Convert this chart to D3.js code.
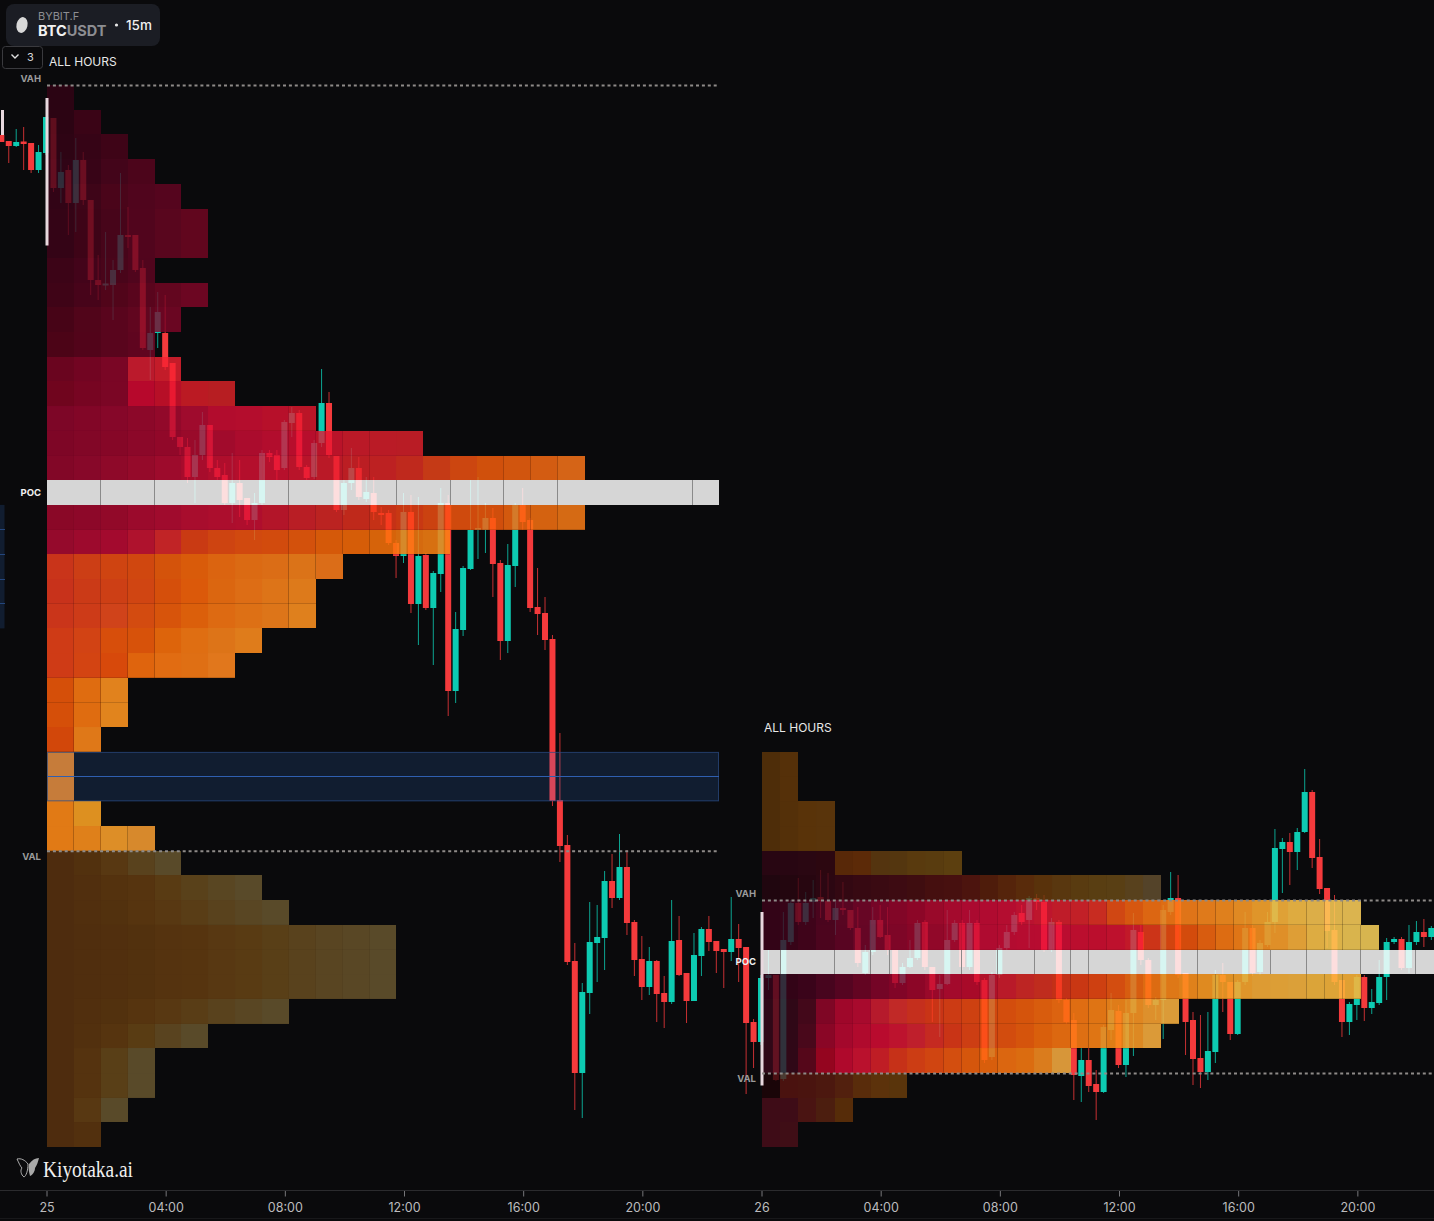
<!DOCTYPE html>
<html><head><meta charset="utf-8">
<script src="https://cdn.jsdelivr.net/npm/d3@7"></script>
<style>html,body{margin:0;padding:0;background:#0a0a0c;overflow:hidden}svg{display:block}text{font-family:Inter,"Noto Sans",sans-serif}</style>
</head><body><svg id="c" width="1434" height="1221"></svg>
<script>
// ---------- DATA ----------
const priorCandles=[[67730,67730,67716,67716],[67718,67718,67674,67708],[67708,67742,67706,67716],[67717,67746,67660,67712],[67714,67714,67654,67660],[67660,67710,67654,67696]];
const dayOneCandles=[[67694,67766,67690,67766],[67764,67764,67616,67624],[67624,67696,67594,67656],[67660,67670,67530,67594],[67594,67724,67536,67680],[67680,67696,67590,67600],[67600,67600,67410,67440],[67440,67490,67400,67430],[67429,67536,67420,67433],[67430,67480,67360,67460],[67460,67654,67454,67530],[67530,67586,67504,67526],[67530,67530,67456,67460],[67464,67480,67300,67304],[67300,67386,67240,67334],[67334,67416,67304,67376],[67334,67410,67260,67266],[67274,67274,67120,67126],[67126,67126,67090,67106],[67106,67124,67034,67046],[67046,67120,66994,67090],[67090,67176,67080,67150],[67150,67150,67056,67064],[67064,67080,67040,67046],[67050,67074,66990,66994],[66994,67094,66954,67034],[67034,67080,66966,67000],[67004,67004,66950,66960],[66960,67014,66920,66994],[66994,67100,66990,67094],[67094,67100,67076,67086],[67090,67100,67040,67060],[67064,67160,67060,67156],[67154,67186,67126,67174],[67174,67180,67060,67066],[67066,67070,67040,67044],[67046,67120,67042,67114],[67114,67262,67106,67194],[67194,67216,67084,67090],[67088,67088,66976,66980],[66980,67040,66970,67034],[67034,67104,67020,67064],[67064,67086,67000,67006],[67002,67046,66996,67016],[67014,67046,66960,66976],[66974,66986,66950,66970],[66974,66980,66910,66914],[66914,66920,66844,66888],[66888,67014,66874,66976],[66976,67010,66774,66792],[66792,67006,66710,66888],[66890,66894,66780,66784],[66784,66858,66670,66854],[66852,67024,66816,66994],[66994,67010,66568,66618],[66618,66776,66594,66742],[66740,66868,66728,66864],[66862,67040,66860,66940],[66940,67046,66882,66944],[66940,66994,66894,66964],[66964,66984,66806,66872],[66874,66880,66680,66718],[66718,66912,66694,66870],[66868,66994,66826,66990],[66990,67024,66940,66956],[66960,66964,66776,66784],[66786,66864,66730,66772],[66774,66806,66700,66720],[66722,66730,66388,66398],[66400,66534,66276,66308],[66310,66330,66070,66076],[66078,66114,65780,65854],[65854,66034,65764,66016],[66014,66196,65972,66116],[66114,66190,66036,66126],[66124,66258,66060,66238],[66238,66292,66184,66204],[66204,66332,66200,66266],[66266,66300,66130,66154],[66156,66160,66048,66080],[66082,66128,66000,66026],[66026,66106,66010,66078],[66078,66080,65956,66012],[66014,66048,65944,65996],[65996,66200,65992,66118],[66120,66168,66048,66050],[66054,66054,65954,65998],[65998,66134,65998,66090],[66088,66146,66048,66142],[66142,66168,66098,66116],[66118,66118,66054,66098],[66102,66102,66024,66096],[66096,66206,66078,66122],[66122,66152,66036,66104],[66106,66106,65812,65954],[65956,65962,65864,65916]];
const dayTwoCandles=[[65916,66050,65910,66044],[66044,66100,66020,66050],[66050,66050,65838,65840],[65842,66176,65838,66120],[66116,66200,66110,66194],[66194,66244,66150,66156],[66156,66216,66150,66194],[66196,66240,66164,66204],[66206,66260,66164,66198],[66198,66254,66156,66160],[66160,66196,66130,66184],[66184,66236,66170,66180],[66180,66180,66140,66144],[66144,66186,66066,66074],[66054,66110,66050,66096],[66096,66186,66090,66160],[66160,66190,66124,66126],[66130,66186,66090,66100],[66100,66100,66024,66034],[66034,66074,66030,66066],[66066,66120,66064,66084],[66084,66160,66080,66154],[66156,66160,66060,66066],[66066,66066,65956,66020],[66022,66050,65926,66032],[66032,66180,66030,66120],[66120,66160,66116,66154],[66154,66160,66060,66066],[66066,66180,66060,66154],[66154,66160,66030,66036],[66040,66044,65874,65880],[65886,66056,65880,66050],[66050,66110,66044,66104],[66104,66150,66100,66136],[66136,66176,66130,66170],[66174,66190,66150,66156],[66160,66208,66104,66204],[66204,66212,66180,66196],[66196,66210,66096,66100],[66100,66164,66096,66156],[66156,66160,65994,66000],[66000,66004,65952,65956],[65960,65974,65800,65850],[65848,65904,65796,65880],[65880,65904,65816,65828],[65832,65860,65760,65816],[65816,65950,65814,65946],[65940,66014,65920,65980],[65978,65990,65864,65870],[65870,66000,65846,65974],[65974,66174,65888,66140],[66136,66150,66070,66080],[66080,66084,65984,65990],[65990,66006,65960,66000],[66000,66190,65922,66180],[66176,66256,66170,66204],[66204,66250,66044,66050],[66054,66054,65890,65956],[65960,65976,65830,65882],[65884,65970,65824,65856],[65856,65976,65840,65898],[65896,66060,65874,66050],[66050,66074,65976,66036],[66036,66036,65920,65932],[65932,66040,65930,66036],[66036,66176,66030,66144],[66144,66150,66048,66054],[66056,66120,66050,66114],[66110,66176,66106,66156],[66156,66342,66134,66304],[66302,66324,66214,66316],[66316,66334,66230,66296],[66296,66344,66260,66336],[66336,66462,66334,66416],[66416,66420,66264,66284],[66286,66322,66212,66222],[66224,66224,66104,66138],[66140,66210,66030,66036],[66040,66040,65926,65956],[65956,65996,65930,65992],[65990,66050,65960,66046],[66046,66050,65958,65984],[65984,66022,65972,65996],[65994,66080,65990,66046],[66046,66124,66000,66116],[66116,66126,66112,66122],[66122,66126,66060,66064],[66064,66150,66054,66116],[66116,66158,66110,66136],[66136,66162,66106,66126],[66126,66148,66120,66144]];
const rowSizeUsd=49.4, gridTopUsd=67830;
// time-at-price counts per price row (row 0 = top of the grid)
const dayOneCounts=[1,2,3,4,5,6,6,4,6,5,4,5,7,10,14,20,25,20,15,11,10,10,8,7,3,3,2,1,1,2,4,5,8,9,13,13,13,9,6,4,4,3,2];
const dayOneFirstRow=0, dayOnePocRow=16, dayOneVahRow=0, dayOneValRow=31;
const dayTwoCounts=[2,2,4,4,11,22,33,34,37,33,23,22,17,8,5,2];
const dayTwoFirstRow=27, dayTwoPocRow=35, dayTwoVahRow=33, dayTwoValRow=40;
const dayOnePocSplits=[2,4,9,13,15,17,19,24];
const dayTwoPocSplits=[1,4,6,7,11,13,15,17,18,24,28,30,33,36];
const ibBars=[{bar:-6,hi:67780,lo:67730},{bar:0,hi:67804,lo:67509},{bar:96,hi:66176,lo:65829}];
const zoneRows=[27,29], priorZoneRows=[17,22];
const tickBars=[0,16,32,48,64,80,96,112,128,144,160,176];
const tickLabels=["25","04:00","08:00","12:00","16:00","20:00","26","04:00","08:00","12:00","16:00","20:00"];

// ---------- STYLE ----------
const brown=['#4e2c0e','#52300e','#56340f','#5a3c14','#5a4420','#5a4a2a'];
const dayOneStops={0:['#2b0414','#2b0414'],1:['#2c0414','#3a0416'],2:['#2e0415','#3e0418'],3:['#300416','#4c051c'],4:['#320416','#4a051b','#55051e'],5:['#340416','#4d051c','#62061f'],6:['#340416','#4d051c','#62061f'],7:['#3c0418','#50051d'],8:['#400418','#55051c','#6d0622'],9:['#470418','#5a051d','#6a0622'],10:['#4c0418','#5f0520'],
11:['#6a0520','#720522','#7a0626','#bc1a2c','#c41c2a'],12:['#70051f','#780522','#7c0626','#b8082c','#b80f28','#bc1a24','#b81e22'],13:['#7d0628','#850628','#8c082a','#960a2c','#b20c2e','#b60e2c','#bb1528'],14:['#7e0627','#860728','#900829','#9e0b2c','#b00c2e','#b80e2c','#bb1a28','#b91c26'],15:['#830728','#8b0829','#960a2b','#a50c2c','#b20e2c','#b8102c','#ba162a','#bc1e24','#be2420','#c83e14','#d04f0c','#d2580f','#d66418'],
17:['#8a0828','#8f0829','#9a0a2c','#a40c2e','#ad0e2e','#b00e2e','#b91d26','#bc2420','#c42e18','#c83a14','#ce480e','#d04f0c','#d4600f','#d66a15'],18:['#960a2c','#a00a2e','#a60a2f','#c0202a','#ca3c12','#cf4810','#d24a0e','#d3500c','#d65a0a','#d86008','#d66a10','#d87012'],19:['#c9351a','#cc3e16','#cf4512','#d0480f','#d5540c','#da5c0a','#dc6410','#dc6a14','#dc6e16','#dc7418','#dc6e18'],20:['#c8321c','#cb3a18','#cd4016','#d04612','#d6500c','#dc5a0a','#dc6610','#de6e16','#de7418','#de7a1c'],21:['#ca361a','#cd3c18','#d0441a','#d44c10','#d8540c','#dc600c','#de6a12','#de7016','#de761a','#e0801e'],22:['#cf3c16','#d24414','#d84e0c','#d8520a','#de640c','#e06e12','#de7418','#e07c1c'],23:['#cf3c16','#d44412','#d84a0c','#e0640e','#e26c12','#e07014','#e2781c'],24:['#d6500a','#e06c10','#e2821e'],25:['#d6500a','#e06c10','#e2841e'],26:['#d2480a','#e07818'],27:['#e07a18','#e07a18'],28:['#e07a18','#e07a18'],29:['#e27a16','#de9020'],30:['#e27a16','#e0801a','#de8e28','#d88a2c'],
31:brown,32:brown,33:brown,34:brown,35:brown,36:brown,37:brown,38:brown,39:brown,40:brown,41:brown,42:brown.slice(0,2)};
const dayTwoStops={27:['#4e2d0a','#55300a'],28:['#4e2d0a','#55300a'],29:['#4e2d0a','#54300a','#5a330a','#5a340c'],30:['#4e2d0a','#54300a','#5a330a','#5a340c'],
31:['#280612','#280612','#2a0712','#2c0711','#582808','#5c2a08','#543410','#543610','#5a3a0e','#5a3c10','#5c4010'],
32:['#200610','#240610','#2c0712','#360812','#3a0a12','#3e0c12','#450f10','#4a100f','#4f1c0c','#58280c','#5a320c','#583a10','#5a3e12','#5a4016','#54442a'],
33:['#330418','#3a0419','#4c0520','#640626','#7c0628','#8c0628','#a00a2d','#ae0a30','#b40c30','#bc1430','#c01c2a','#c42226','#d24c10','#dc6412','#e07016','#e07a1c','#e08420','#e0982c','#dfaa40','#dcb04a','#dcb450'],
34:['#330418','#3a0419','#500520','#640626','#7a0628','#8a0628','#9a0a2c','#ae0a30','#b40c30','#b80c30','#bc0e30','#bc0e2e','#c0142e','#d04010','#d44c0c','#de6a12','#e07a18','#e09028','#dfaa40','#dcb44c','#d8b550'],
36:['#300418','#340418','#4a0520','#600522','#7a0528','#8c0628','#a00a2c','#aa0a2a','#b8182a','#be2a22','#c43018','#cc3c12','#d45010','#dc6a12','#e07c18','#e08a20','#e09428','#de9c34','#dca03a','#dca53a','#e0a034'],
37:['#300818','#300818','#98062a','#aa0a2e','#c0282a','#c83218','#cc3c14','#d0480f','#d4500c','#da5e0e','#e06c12','#e07816','#e08a24','#dc9c38'],
38:['#300818','#300818','#9a062a','#b00a2e','#bc0c30','#c0202c','#c83218','#ce4212','#d24c0e','#d85a0c','#de6a10','#e07415','#e08018','#dc9a38'],
39:['#300818','#300818','#92051f','#b80a30','#bf1a28','#c93616','#cf4412','#d4500e','#d85c0c','#dc6810','#dc7010','#d8963a'],
40:['#1a0508','#4a1210','#4a1410','#4c1810','#52200e','#5a2c0c','#5c320c','#5a340c'],41:['#3e0c18','#3e0c18','#4a1412','#4c1e10','#562c0a'],42:['#3e0c18','#400e16']};
const BG='#0a0a0c', UP='#0dcbb2', DOWN='#f43a3c', CELL_ALPHA=.79, POC_ALPHA=.84;

// ---------- SCALES ----------
const svg=d3.select('#c');
const W=1434,H=1221;
svg.append('rect').attr('width',W).attr('height',H).attr('fill',BG);
const y=d3.scaleLinear().domain([68000,68000-2*H]).range([0,H]);
const x=d3.scaleLinear().domain([0,192]).range([47,47+192*7.448]);
const rowY=r=>y(gridTopUsd-r*rowSizeUsd);
const bg=d3.rgb(BG);
// keep the painted colour on the background; brighter cells need a higher alpha to reach it
const cellAlpha=c=>{c=d3.rgb(c);const m=Math.max(c.r,c.g,c.b);return Math.max(CELL_ALPHA,(m-bg.r)/(255-bg.r)+.01);};
const overBlack=(c,a)=>{c=d3.rgb(c);const f=k=>Math.max(0,Math.min(255,(c[k]-(1-a)*bg[k])/a));return d3.rgb(f('r'),f('g'),f('b')).formatRgb();};

// ---------- CANDLES ----------
const all=[...priorCandles.map((c,i)=>({c,b:i-priorCandles.length})),...dayOneCandles.map((c,i)=>({c,b:i})),...dayTwoCandles.map((c,i)=>({c,b:i+dayOneCandles.length}))];
const gC=svg.append('g');
const cx=b=>x(b)-1;
gC.selectAll('rect.w').data(all).join('rect').attr('class','w')
  .attr('x',d=>cx(d.b)-.5).attr('width',1).attr('y',d=>y(d.c[1])).attr('height',d=>y(d.c[2])-y(d.c[1]))
  .attr('fill',d=>d.c[3]>=d.c[0]?UP:DOWN).attr('opacity',.8);
gC.selectAll('rect.b').data(all).join('rect').attr('class','b')
  .attr('x',d=>cx(d.b)-3).attr('width',6).attr('y',d=>y(Math.max(d.c[0],d.c[3])))
  .attr('height',d=>Math.max(1.5,Math.abs(y(d.c[0])-y(d.c[3]))))
  .attr('fill',d=>d.c[3]>=d.c[0]?UP:DOWN);

// ---------- PROFILES ----------
function profile(counts,firstRow,stops,pocRow,x0,cellW,splits){
  const g=svg.append('g');
  const cx=d3.scaleLinear().domain([0,1]).range([x0,x0+cellW]);
  counts.forEach((n,k)=>{
    const r=firstRow+k, y0=rowY(r), y1=rowY(r+1);
    if(r===pocRow){
      g.append('rect').attr('x',cx(0)).attr('y',y0).attr('width',cx(n)-cx(0)).attr('height',y1-y0)
        .attr('fill',overBlack('#d7d7d7',POC_ALPHA)).attr('fill-opacity',POC_ALPHA).attr('shape-rendering','crispEdges');
      splits.forEach(s=>g.append('line').attr('x1',cx(s)).attr('x2',cx(s)).attr('y1',y0).attr('y2',y1).attr('stroke','#8a8a8a').attr('shape-rendering','crispEdges'));
      return;
    }
    const st=stops[r];
    const color=d3.scaleLinear().domain(st.map((_,j)=>j/(st.length-1)*(n-1||1))).range(st).interpolate(d3.interpolateRgb);
    for(let j=0;j<n;j++){
      const c=color(j), L=d3.lab(c).l, al=cellAlpha(c);
      g.append('rect').attr('x',cx(j)).attr('y',y0).attr('width',cx(j+1)-cx(j)).attr('height',y1-y0)
        .attr('fill',overBlack(c,al)).attr('fill-opacity',al).attr('shape-rendering','crispEdges');
      const a=Math.min(.22,Math.max(0,(L-22))/100*.6);
      if(a>0){
        if(j<n-1) g.append('line').attr('x1',cx(j+1)).attr('x2',cx(j+1)).attr('y1',y0).attr('y2',y1).attr('stroke','#000').attr('stroke-opacity',a).attr('shape-rendering','crispEdges');
        g.append('line').attr('x1',cx(j)).attr('x2',cx(j+1)).attr('y1',y1).attr('y2',y1).attr('stroke','#000').attr('stroke-opacity',a*.7).attr('shape-rendering','crispEdges');
      }
    }
  });
}
profile(dayOneCounts,dayOneFirstRow,dayOneStops,dayOnePocRow,47,26.88,dayOnePocSplits);
profile(dayTwoCounts,dayTwoFirstRow,dayTwoStops,dayTwoPocRow,762,18.15,dayTwoPocSplits);

// prior-session zone edge, and the day-one zone
const zone=(x0,x1,rows,edge)=>{
  const yt=rowY(rows[0]), yb=rowY(rows[1]);
  svg.append('rect').attr('x',x0).attr('y',yt).attr('width',x1-x0).attr('height',yb-yt).attr('fill','rgb(58,140,255)').attr('fill-opacity',.15);
  if(edge) svg.append('rect').attr('x',x0+.5).attr('y',yt+.5).attr('width',x1-x0-1).attr('height',yb-yt-1).attr('fill','none').attr('stroke','#2a4a80').attr('stroke-opacity',.7);
  d3.range(rows[0]+1,rows[1]).forEach(r=>svg.append('line').attr('x1',x0).attr('x2',x1).attr('y1',rowY(r)).attr('y2',rowY(r)).attr('stroke',edge?'#2f5fb0':'#24467c').attr('shape-rendering','crispEdges'));
};
zone(47,719,zoneRows,true);
zone(0,4.5,priorZoneRows,false);

// initial-balance bars
svg.selectAll('rect.ib').data(ibBars).join('rect').attr('class','ib')
  .attr('x',d=>d.bar<0?1:x(d.bar)-1.5).attr('width',3).attr('y',d=>y(d.hi)).attr('height',d=>y(d.lo)-y(d.hi)).attr('fill','#e8d8de');

// VAH / VAL dotted lines
const dotted=(x0,x1,r)=>svg.append('line').attr('x1',x0).attr('x2',x1).attr('y1',rowY(r)+.5).attr('y2',rowY(r)+.5).attr('stroke','#8e8a88').attr('stroke-width',2).attr('stroke-dasharray','3 2.9');
dotted(47,719,dayOneVahRow);dotted(47,719,dayOneValRow);
dotted(762,1434,dayTwoVahRow);dotted(762,1434,dayTwoValRow);

// value labels
const lab=(t,xx,yy,col)=>svg.append('text').attr('x',xx).attr('y',yy).attr('text-anchor','end').attr('font-size',9.5).attr('font-weight',700).attr('fill',col).text(t);
lab('VAH',41,rowY(dayOneVahRow)-3.5,'#9b9b9b');
lab('POC',41,rowY(dayOnePocRow)+16,'#f2f2f2');
lab('VAL',41,rowY(dayOneValRow)+9.5,'#9b9b9b');
lab('VAH',756,rowY(dayTwoVahRow)-3.5,'#9b9b9b');
lab('POC',756,rowY(dayTwoPocRow)+15.5,'#f2f2f2');
lab('VAL',756,rowY(dayTwoValRow)+9,'#9b9b9b');
[[49,66],[764,732]].forEach(p=>svg.append('text').attr('x',p[0]).attr('y',p[1]).attr('font-size',12).attr('fill','#e8e8e8').text('ALL HOURS'));

// ---------- TIME AXIS ----------
const gA=svg.append('g').attr('transform','translate(-0.5,1190.5)');
const axis=d3.axisBottom(x).tickValues(tickBars).tickFormat((d,i)=>tickLabels[i]).tickSize(6).tickPadding(7);
gA.call(axis);
gA.select('.domain').remove();
gA.append('line').attr('x1',0).attr('x2',W+1).attr('stroke','#2b2b2e');
gA.selectAll('.tick line').attr('stroke','#77777a');
gA.selectAll('.tick text').attr('fill','#bcbcbe').attr('font-size',12.5).style('font-family','Inter,sans-serif');
svg.append('line').attr('x1',0).attr('x2',W).attr('y1',1218.5).attr('y2',1218.5).attr('stroke','#18181a');

// ---------- HEADER ----------
svg.append('rect').attr('x',6).attr('y',4).attr('width',154).attr('height',42).attr('rx',8).attr('fill','#1b1d24');
svg.append('ellipse').attr('cx',22).attr('cy',25).attr('rx',5.5).attr('ry',8).attr('fill','#d8d8d8').attr('transform','rotate(12 22 25)');
svg.append('text').attr('x',38).attr('y',20).attr('font-size',11).attr('fill','#8d8e92').text('BYBIT.F');
const sym=svg.append('text').attr('x',38).attr('y',36).attr('font-size',14.5).attr('font-weight',700);
sym.append('tspan').attr('fill','#f2f2f2').text('BTC');
sym.append('tspan').attr('fill','#8d8e92').text('USDT');
svg.append('circle').attr('cx',116.5).attr('cy',25).attr('r',1.6).attr('fill','#e8e8e8');
svg.append('text').attr('x',126).attr('y',30).attr('font-size',13.5).attr('font-weight',500).attr('fill','#f0f0f0').text('15m');
svg.append('rect').attr('x',2.5).attr('y',46.5).attr('width',40).attr('height',22).attr('rx',3).attr('fill','none').attr('stroke','#3a3a3e');
svg.append('path').attr('d','M11.5 54.5l3.5 3.5 3.5-3.5').attr('fill','none').attr('stroke','#e0e0e0').attr('stroke-width',1.4);
svg.append('text').attr('x',27).attr('y',60.5).attr('font-size',11).attr('fill','#d8d8d8').text('3');

// ---------- BRAND ----------
const bf=svg.append('g');
bf.append('path').attr('d','M28 1164C25 1160 21 1158 17 1159C19 1163 20 1166 22 1168C20 1170 21 1175 24 1177C26 1176 28 1171 28 1164Z').attr('fill','none').attr('stroke','#bdbdbd').attr('stroke-width',.9);
bf.append('path').attr('d','M29 1164C32 1160 35 1158 39 1158C38 1162 37 1165 35 1168C35 1171 33 1175 30 1176C29 1172 28 1168 29 1164Z').attr('fill','#a8a8a8');
svg.append('text').attr('x',43).attr('y',1176.5).style('font-family','"Liberation Serif",serif').attr('font-size',24).attr('textLength',90).attr('lengthAdjust','spacingAndGlyphs').attr('fill','#f0f0f0').text('Kiyotaka.ai');
</script></body></html>
